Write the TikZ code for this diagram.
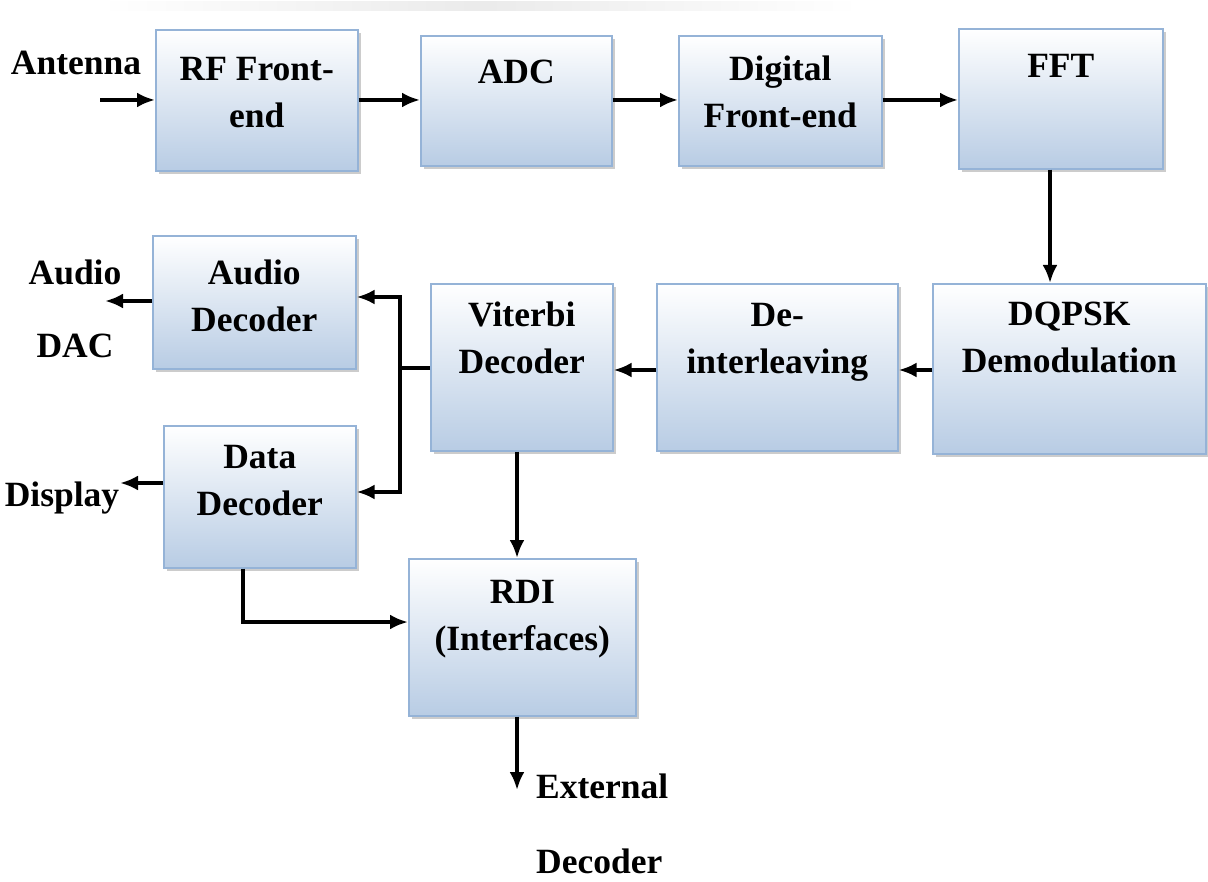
\documentclass[tikz,border=0pt]{standalone}
\usepackage{fontspec}
\setmainfont{Liberation Serif}
\usetikzlibrary{arrows.meta,shadows}
\definecolor{boxedge}{RGB}{149,179,215}
\definecolor{boxfill}{RGB}{184,204,228}
\tikzset{
  blk/.style={draw=boxedge, line width=1.6pt, top color=white, bottom color=boxfill,
    drop shadow={shadow xshift=3pt, shadow yshift=-3pt, fill=black!40},
    inner sep=0pt, anchor=north west},
  lbl/.style={font=\fontsize{35.5}{47}\selectfont\bfseries, align=center, anchor=base, inner sep=0pt},
  link/.style={line width=3.5pt, -{Latex[length=18pt,width=15pt]}},
  wire/.style={line width=3.5pt},
}
\begin{document}
\begin{tikzpicture}[x=1pt, y=-1pt]
\useasboundingbox (0,0) rectangle (1208,882);
% faint strip along the top edge
\fill[left color=white, right color=white, middle color=black!8] (100,2) rectangle (860,11);

% blocks
\node[blk, minimum width=202pt, minimum height=141pt] (rf)    at (155,29)  {};
\node[blk, minimum width=191pt, minimum height=130pt] (adc)   at (420,35)  {};
\node[blk, minimum width=203pt, minimum height=130pt] (dfe)   at (678,35)  {};
\node[blk, minimum width=204pt, minimum height=140pt] (fft)   at (958,28)  {};
\node[blk, minimum width=273pt, minimum height=170pt] (dqpsk) at (932,283) {};
\node[blk, minimum width=241pt, minimum height=167pt] (deint) at (656,283) {};
\node[blk, minimum width=182pt, minimum height=167pt] (vit)   at (430,283) {};
\node[blk, minimum width=203pt, minimum height=133pt] (audio) at (152,235) {};
\node[blk, minimum width=192pt, minimum height=142pt] (data)  at (163,425) {};
\node[blk, minimum width=227pt, minimum height=157pt] (rdi)   at (408,558) {};

% block texts (positions give the baseline of the last line)
\node[lbl] (t-rf)    at (rf.north |- 0,128)    {RF Front-\\end};
\node[lbl] (t-adc)   at (adc.north |- 0,84)    {ADC};
\node[lbl] (t-dfe)   at (dfe.north |- 0,128)   {Digital\\Front-end};
\node[lbl] (t-fft)   at (fft.north |- 0,78)    {FFT};
\node[lbl] (t-dqpsk) at (dqpsk.north |- 0,373) {DQPSK\\Demodulation};
\node[lbl] (t-deint) at (deint.north |- 0,374) {De-\\interleaving};
\node[lbl] (t-vit)   at (vit.north |- 0,374)   {Viterbi\\Decoder};
\node[lbl] (t-audio) at (audio.north |- 0,332) {Audio\\Decoder};
\node[lbl] (t-data)  at (data.north |- 0,515)  {Data\\Decoder};
\node[lbl] (t-rdi)   at (rdi.north |- 0,650)   {RDI\\(Interfaces)};

% outside labels
\node[lbl] (antenna) at (76,75)  {Antenna};
\node[lbl, font=\fontsize{35.5}{73}\selectfont\bfseries] (dac) at (75,358) {Audio\\DAC};
\node[lbl] (display) at (62,507) {Display};
\node[lbl, anchor=base west, align=left, font=\fontsize{35.5}{75}\selectfont\bfseries] (ext) at (536,873) {External\\Decoder};

% free ends and bus points
\coordinate (ant-in)   at (100,100);
\coordinate (dac-out)  at (105,301);
\coordinate (disp-out) at (120,483);
\coordinate (ext-out)  at (517,790);
\coordinate (bus-top)  at (400,297);
\coordinate (bus-bot)  at (400,492);
\coordinate (bus-mid)  at (400,368);
\coordinate (turn)     at (243,622);

% forward chain
\draw[link] (ant-in) -- (ant-in -| rf.west);
\draw[link] (rf.east |- 0,100) -- (adc.west |- 0,100);
\draw[link] (adc.east |- 0,100) -- (dfe.west |- 0,100);
\draw[link] (dfe.east |- 0,100) -- (fft.west |- 0,100);
\draw[link] (fft.south -| 1050,0) -- (dqpsk.north -| 1050,0);
\draw[link] (dqpsk.west |- 0,370) -- (deint.east |- 0,370);
\draw[link] (deint.west |- 0,370) -- (vit.east |- 0,370);

% Viterbi output bus
\draw[wire] (vit.west |- bus-mid) -- (bus-mid);
\draw[wire, line cap=rect] (bus-top) -- (bus-bot);
\draw[link] (bus-top) -- (bus-top -| audio.east);
\draw[link] (bus-bot) -- (bus-bot -| data.east);

% decoder outputs
\draw[link] (audio.west |- dac-out) -- (dac-out);
\draw[link] (data.west |- disp-out) -- (disp-out);
\draw[link] (data.south -| turn) -- (turn) -- (turn -| rdi.west);
\draw[link] (vit.south -| 517,0) -- (rdi.north -| 517,0);
\draw[link] (rdi.south -| ext-out) -- (ext-out);
\end{tikzpicture}
\end{document}
